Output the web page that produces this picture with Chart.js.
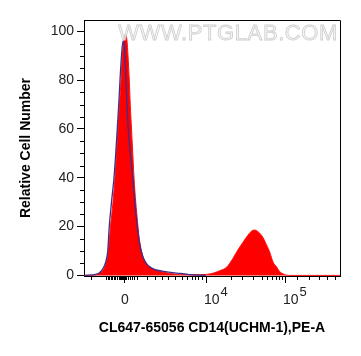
<!DOCTYPE html>
<html>
<head>
<meta charset="utf-8">
<script src="https://cdn.jsdelivr.net/npm/chart.js@4.4.0/dist/chart.umd.min.js"></script>
<style>
  html, body { margin: 0; padding: 0; background: #fff; }
  #wrap { width: 361px; height: 356px; }
</style>
</head>
<body>
<div id="wrap"><canvas id="chart" width="361" height="356"></canvas></div>
<script>
// x values are display channels along the biexponential PE-A axis (0..1024)
const sampleX = [0, 23, 50, 70, 85, 96, 106, 116, 124, 130, 136, 142, 148, 152, 157, 163, 168, 172, 176, 181, 185, 190, 195, 200, 207, 214, 220, 226, 236, 250, 263, 290, 316, 343, 370, 403, 443, 490, 516, 543, 570, 596, 616, 636, 656, 671, 683, 695, 707, 716, 730, 743, 756, 770, 783, 796, 810, 823, 1024];
const sampleY = [0, 0, 0.3, 1.5, 4, 9, 20, 30, 40, 50, 60, 70, 80, 88, 94, 97.5, 98.8, 96, 90, 80, 70, 60, 50, 40, 30, 22, 16, 12, 7.5, 4.8, 3.4, 2.2, 1.4, 0.8, 0.5, 0.4, 0.3, 0.4, 0.9, 1.9, 3.3, 7, 10.5, 13.6, 16.5, 18.2, 18.6, 18, 16.8, 15.5, 12.5, 9.5, 5.5, 3.5, 1.5, 0.6, 0.1, 0, 0];

const controlX = [3, 50, 63, 76, 87, 95, 101, 110, 120, 127, 133, 139, 144, 150, 156, 160, 164, 168, 172, 177, 185, 195, 203, 213, 222, 236, 250, 266, 286, 306, 346, 386, 423, 463, 487];
const controlY = [0, 0.5, 1.2, 2.8, 5.5, 10, 20, 30, 40, 50, 60, 70, 80, 90, 96, 95, 90, 80, 70, 60, 50, 40, 30, 20, 13, 7.5, 4.8, 3.3, 2.3, 1.9, 1.2, 0.8, 0.3, 0.1, 0];

const xTickValues = [160, 488, 804];
const xTickBase = ['0', '10', '10'];
const xTickExp = ['', '4', '5'];
const xMinorTicks = [28, 88, 94, 100, 106, 112, 118, 124, 132, 140, 144, 148, 152, 156, 164, 168, 176, 184, 192, 200, 212, 252, 284, 312, 336, 364, 392, 412, 432, 444, 456, 472, 588, 632, 676, 712, 732, 752, 768, 780, 792, 852, 900, 940, 972, 1004];

const yTickValues = [0, 20, 40, 60, 80, 100];
const yMinorTicks = [5, 10, 15, 25, 30, 35, 45, 50, 55, 65, 70, 75, 85, 90, 95];

const FONT = "'Liberation Sans', Arial, sans-serif";

function toPoints(xs, ys) {
  return xs.map((x, i) => ({ x: x, y: ys[i] }));
}

const minorTicks = {
  id: 'minorTicks',
  afterDraw(chart) {
    const { ctx, chartArea } = chart;
    const x = chart.scales.x;
    const y = chart.scales.y;
    ctx.save();
    ctx.strokeStyle = '#000';
    ctx.lineWidth = 1;
    ctx.beginPath();
    xMinorTicks.forEach(v => {
      const px = Math.round(x.getPixelForValue(v)) + 0.5;
      ctx.moveTo(px, chartArea.bottom);
      ctx.lineTo(px, chartArea.bottom + 4);
    });
    yMinorTicks.forEach(v => {
      const py = Math.round(y.getPixelForValue(v)) + 0.5;
      ctx.moveTo(chartArea.left, py);
      ctx.lineTo(chartArea.left - 4, py);
    });
    // top and right edges of the plot box
    ctx.moveTo(chartArea.left, chartArea.top + 0.5);
    ctx.lineTo(chartArea.right + 0.5, chartArea.top + 0.5);
    ctx.lineTo(chartArea.right + 0.5, chartArea.bottom);
    ctx.stroke();
    ctx.restore();
  }
};

// x tick labels with real superscripts (10^4, 10^5)
const powerLabels = {
  id: 'powerLabels',
  afterDraw(chart) {
    const { ctx, chartArea } = chart;
    const x = chart.scales.x;
    ctx.save();
    ctx.fillStyle = '#222';
    ctx.textBaseline = 'alphabetic';
    xTickValues.forEach((v, i) => {
      const px = x.getPixelForValue(v);
      const base = xTickBase[i];
      const exp = xTickExp[i];
      ctx.font = '14px ' + FONT;
      const bw = ctx.measureText(base).width;
      const left = exp ? px - 2 : px + 1 - bw / 2;
      ctx.textAlign = 'left';
      ctx.fillText(base, left, chartArea.bottom + 28);
      if (exp) {
        ctx.font = '13px ' + FONT;
        ctx.fillText(exp, left + bw + 1, chartArea.bottom + 20);
      }
    });
    ctx.restore();
  }
};

const watermark = {
  id: 'watermark',
  afterDatasetsDraw(chart) {
    const { ctx, chartArea } = chart;
    ctx.save();
    ctx.font = '22px ' + FONT;
    ctx.letterSpacing = '0.6px';
    ctx.textAlign = 'right';
    ctx.textBaseline = 'middle';
    ctx.fillStyle = 'rgba(245,245,245,0.85)';
    ctx.strokeStyle = 'rgba(195,195,195,0.8)';
    ctx.lineWidth = 0.8;
    ctx.fillText('WWW.PTGLAB.COM', chartArea.right - 2, chartArea.top + 14);
    ctx.strokeText('WWW.PTGLAB.COM', chartArea.right - 2, chartArea.top + 14);
    ctx.restore();
  }
};

new Chart(document.getElementById('chart').getContext('2d'), {
  type: 'line',
  data: {
    datasets: [{
      label: 'Control',
      data: toPoints(controlX, controlY),
      borderColor: '#3a2f8c',
      borderWidth: 1.3,
      fill: false,
      pointRadius: 0,
      cubicInterpolationMode: 'monotone',
      order: 0
    }, {
      label: 'CD14',
      data: toPoints(sampleX, sampleY),
      borderColor: '#ff1010',
      borderWidth: 1,
      backgroundColor: '#ff0000',
      fill: 'origin',
      pointRadius: 0,
      cubicInterpolationMode: 'monotone',
      order: 1
    }]
  },
  options: {
    responsive: false,
    animation: false,
    layout: { padding: { top: 20, right: 21, left: 0, bottom: 0 } },
    plugins: {
      legend: { display: false },
      tooltip: { enabled: false }
    },
    scales: {
      x: {
        type: 'linear',
        min: 0,
        max: 1024,
        afterBuildTicks: s => { s.ticks = xTickValues.map(v => ({ value: v })); },
        afterFit: s => { s.height = 80; },
        ticks: { display: false },
        grid: { drawOnChartArea: false, tickLength: 7, color: '#000' },
        border: { color: '#000' },
        title: {
          display: true,
          text: 'CL647-65056 CD14(UCHM-1),PE-A',
          color: '#000',
          font: { family: FONT, size: 14, weight: 'bold' },
          padding: { top: 0, bottom: 19 }
        }
      },
      y: {
        min: -0.25,
        max: 104.65,
        afterBuildTicks: s => { s.ticks = yTickValues.map(v => ({ value: v })); },
        afterFit: s => { s.width = 84; },
        ticks: {
          padding: 3,
          color: '#222',
          font: { family: FONT, size: 14 }
        },
        grid: { drawOnChartArea: false, tickLength: 7, color: '#000' },
        border: { color: '#000' },
        title: {
          display: true,
          text: 'Relative Cell Number',
          color: '#000',
          font: { family: FONT, size: 14, weight: 'bold' },
          padding: { top: 18, bottom: 0 }
        }
      }
    }
  },
  plugins: [minorTicks, powerLabels, watermark]
});
</script>
</body>
</html>
